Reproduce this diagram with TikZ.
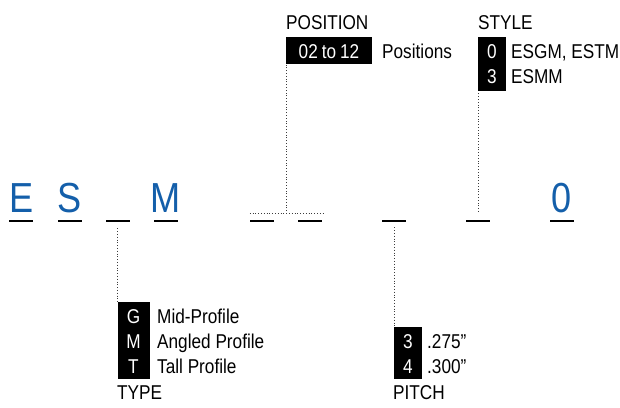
\documentclass[tikz,border=0pt]{standalone}
\usepackage{fontspec}
\usepackage{tikz}
\usetikzlibrary{calc}
\newfontfamily\sansfam{Liberation Sans}[FakeStretch=0.86]
\newcommand{\smallsans}{\sansfam\fontsize{20}{25}\selectfont}
\newcommand{\bigsans}{\sansfam\fontsize{42}{48}\selectfont}
\definecolor{code-blue}{RGB}{20,95,170}
\definecolor{dot-gray}{RGB}{60,60,60}

\begin{document}
\begin{tikzpicture}[
 x=1pt, y=-1pt,
 code/.style={font=\bigsans, text=code-blue, anchor=base, inner sep=0pt},
 ul/.style={fill=black, minimum width=24pt, minimum height=2.2pt, inner sep=0pt},
 tag/.style={fill=black, anchor=north west, inner sep=0pt},
 key/.style={font=\smallsans, text=white, anchor=base, inner sep=0pt},
 lbl/.style={font=\smallsans, text=black, anchor=base west, inner sep=0pt},
 dots/.style={dotted, line width=0.8pt, dot-gray},
]
 \fill[white] (0,0) rectangle (620,407);
 \useasboundingbox (0,0) rectangle (620,407);

 % slots of the part number
 \node[ul] (uE) at (21.3,221) {};
 \node[ul] (uS) at (69.5,221) {};
 \node[ul] (uT) at (117.5,221) {};
 \node[ul] (uM) at (165.5,221) {};
 \node[ul] (uP1) at (262,221) {};
 \node[ul] (uP2) at (310,221) {};
 \node[ul] (uPi) at (394,221) {};
 \node[ul] (uSt) at (478,221) {};
 \node[ul] (uZ) at (562,221) {};

 \node[code] (cE) at (21.3,212) {E};
 \node[code] (cS) at (69.5,212) {S};
 \node[code] (cM) at (165.5,212) {M};
 \node[code] (cZ) at (562,212) {0};

 % position
 \node[lbl] (posh) at (286,29) {POSITION};
 \node[tag, minimum width=86pt, minimum height=27pt] (pbox) at (286,37) {};
 \node[key] (pk) at (329,58) {02\hspace{4pt}to\hspace{4pt}12};
 \node[lbl] (pl) at (382,58) {Positions};

 % style
 \node[lbl] (sth) at (478,29) {STYLE};
 \node[tag, minimum width=28pt, minimum height=54pt] (sbox) at (478,37) {};
 \node[key] (sk0) at (492,58) {0};
 \node[key] (sk3) at (492,83) {3};
 \node[lbl] (sl0) at (511,58) {ESGM, ESTM};
 \node[lbl] (sl3) at (511,83) {ESMM};

 % type
 \node[tag, minimum width=32pt, minimum height=77pt] (tbox) at (117.5,302) {};
 \node[key] (tkG) at (133.5,323) {G};
 \node[key] (tkM) at (133.5,348) {M};
 \node[key] (tkT) at (133.5,373) {T};
 \node[lbl] (tlG) at (157,323) {Mid-Profile};
 \node[lbl] (tlM) at (157,348) {Angled Profile};
 \node[lbl] (tlT) at (157,373) {Tall Profile};
 \node[lbl] (tyh) at (117,399) {TYPE};

 % pitch
 \node[tag, minimum width=28pt, minimum height=52pt] (pibox) at (394,327) {};
 \node[key] (pik3) at (408,348) {3};
 \node[key] (pik4) at (408,373) {4};
 \node[lbl] (pil3) at (427,348) {.275”};
 \node[lbl] (pil4) at (427,373) {.300”};
 \node[lbl] (pih) at (393,399) {PITCH};

 % leaders
 \coordinate (brL) at ([yshift=6pt]uP1.north west);
 \coordinate (brR) at ([yshift=6pt,xshift=1pt]uP2.north east);
 \coordinate (brM) at ($(brL)!0.5!(brR)$);
 \draw[dots] (brL) -- (brR);
 \draw[dots] (brM) -- (brM |- pbox.south);
 \draw[dots, shorten <=8pt] (uSt.north) -- (uSt.north |- sbox.south);
 \draw[dots, shorten <=6pt] (uT.south) -- (uT.south |- tbox.north);
 \draw[dots, shorten <=5pt] (uPi.south) -- (uPi.south |- pibox.north);
\end{tikzpicture}
\end{document}
